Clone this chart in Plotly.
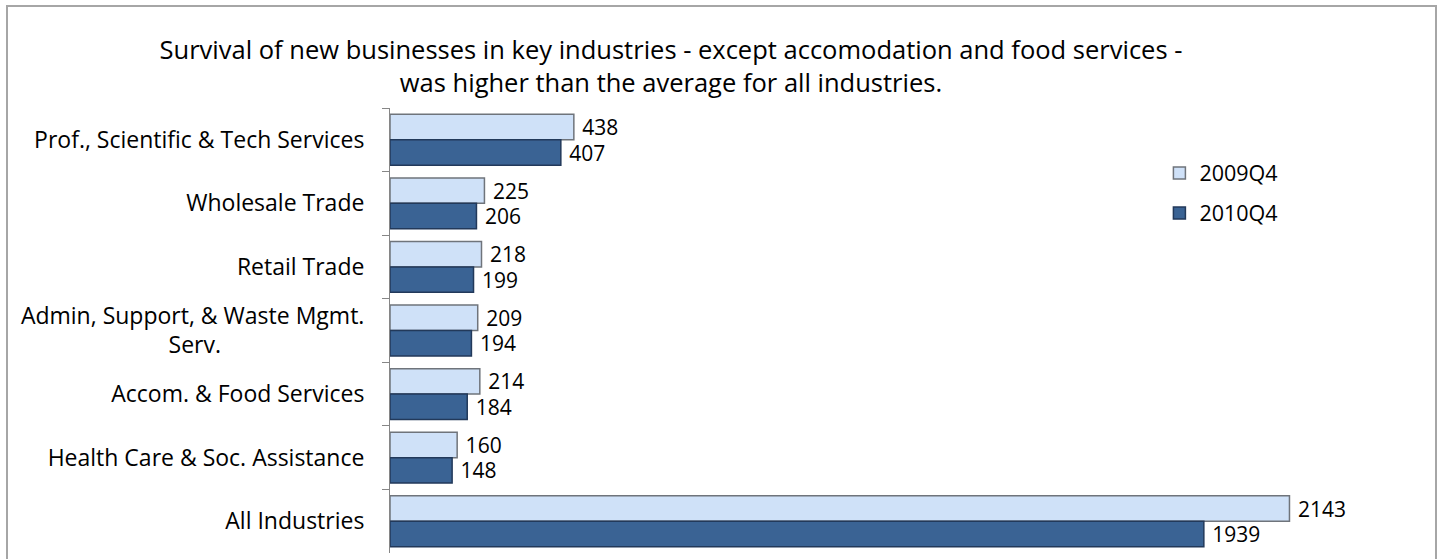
import plotly.graph_objects as go

categories = [
    "Prof., Scientific & Tech Services",
    "Wholesale Trade",
    "Retail Trade",
    "Admin, Support, & Waste Mgmt.<br>Serv." + "\u00a0" * 24,
    "Accom. & Food Services",
    "Health Care & Soc. Assistance",
    "All Industries",
]
q4_2009 = [438, 225, 218, 209, 214, 160, 2143]
q4_2010 = [407, 206, 199, 194, 184, 148, 1939]

FONT = "Open Sans"

fig = go.Figure()
fig.add_trace(go.Bar(
    y=categories, x=q4_2009, name="2009Q4", orientation="h",
    legendgroup="a",
    marker=dict(color="#cfe1f8", line=dict(color="#6f747b", width=1.5)),
    text=q4_2009, texttemplate="\u00a0%{x}", textposition="outside",
    textfont=dict(size=21, color="black", family=FONT), cliponaxis=False,
))
fig.add_trace(go.Bar(
    y=categories, x=q4_2010, name="2010Q4", orientation="h",
    legendgroup="b",
    marker=dict(color="#3a6394", line=dict(color="#22395a", width=1.5)),
    text=q4_2010, texttemplate="\u00a0%{x}", textposition="outside",
    textfont=dict(size=21, color="black", family=FONT), cliponaxis=False,
))

fig.update_layout(
    width=1443, height=559,
    margin=dict(l=390, r=23, t=108, b=6),
    paper_bgcolor="white", plot_bgcolor="white",
    font=dict(family=FONT, size=21, color="black"),
    barmode="group", bargap=0.2, bargroupgap=0,
    title=dict(
        text="Survival of new businesses in key industries - except accomodation and food services -<br>was higher than the average for all industries.",
        x=0.465, xanchor="center", y=0.895, yanchor="top",
        font=dict(size=25.5, family=FONT),
    ),
    legend=dict(
        x=0.747, y=0.9, xanchor="left", yanchor="top",
        font=dict(size=21.5, family=FONT), tracegroupgap=9,
        bgcolor="rgba(0,0,0,0)", itemwidth=30,
    ),
    showlegend=True,
    uniformtext=dict(minsize=21, mode="show"),
)
fig.update_xaxes(range=[0, 2454], visible=False)
fig.update_yaxes(
    autorange="reversed", showline=True, linecolor="#868686", linewidth=1,
    ticks="outside", ticklen=7, tickcolor="#868686",
    tickson="boundaries", ticklabelstandoff=20,
    tickfont=dict(size=23, family=FONT),
)
fig.add_shape(
    type="rect", xref="paper", yref="paper",
    x0=(7 - 390) / 1030, x1=(1436 - 390) / 1030,
    y0=(553 - 570) / 445, y1=(553 - 6) / 445,
    line=dict(color="#a6a6a6", width=2), fillcolor="rgba(0,0,0,0)", layer="below",
)

fig.write_html(
    "out.html",
    config={"displayModeBar": False},
    post_script="document.body.style.margin='0';",
)
